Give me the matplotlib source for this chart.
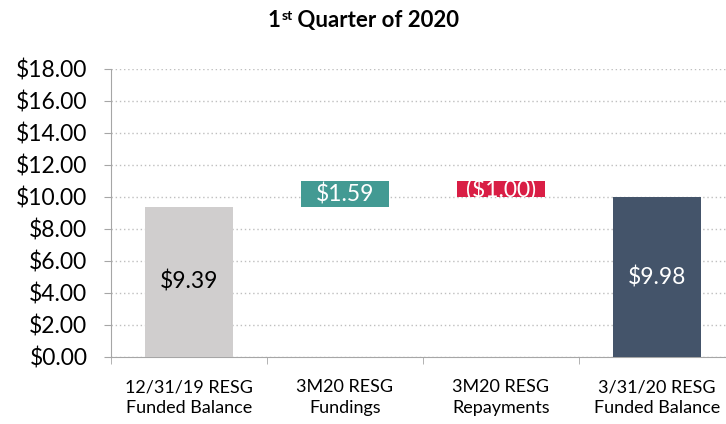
import matplotlib
matplotlib.use("Agg")
import matplotlib.pyplot as plt
import numpy as np

plt.rcParams['font.family'] = ['Lato', 'DejaVu Sans']

# data
categories = ["12/31/19 RESG\nFunded Balance", "3M20 RESG\nFundings",
              "3M20 RESG\nRepayments", "3/31/20 RESG\nFunded Balance"]
start_balance = 9.39
fundings = 1.59
repayments = -1.00
end_balance = 9.98
labels = ["$9.39", "$1.59", "($1.00)", "$9.98"]

bottoms = [0, start_balance, start_balance + fundings + repayments, 0]
heights = [start_balance, fundings, -repayments, end_balance]
colors = ['#D0CECE', '#439A93', '#D91E45', '#44546A']
text_colors = ['black', 'white', 'white', 'white']

fig = plt.figure(figsize=(7.26, 4.24), dpi=100)
ax = fig.add_axes([111/726, 67/424, 624/726, 288/424])

x = np.arange(len(categories))
bars = ax.bar(x, heights, bottom=bottoms, width=0.57, color=colors, zorder=3)

# value labels, clipped to their bar like the original
for b, lab, tc in zip(bars, labels, text_colors):
    cx = b.get_x() + b.get_width()/2
    cy = b.get_y() + b.get_height()/2
    t = ax.text(cx, cy, lab, ha='center', va='center', color=tc, fontsize=16.5, zorder=4)
    t.set_clip_path(b)

ax.set_xlim(-0.5, 3.5)
ax.set_ylim(0, 18)
ax.set_yticks(np.arange(0, 19, 2))
ax.set_yticklabels(['${:.2f}'.format(v) for v in np.arange(0, 19, 2)], fontsize=16.5)
ax.yaxis.grid(True, linestyle=(0, (1, 2)), color='#BFBFBF', linewidth=1, zorder=0)
ax.set_xticks(x)
ax.set_xticklabels(categories, fontsize=13, linespacing=1.4)
ax.set_xticks(np.arange(-0.5, 3.6, 1), minor=True)
ax.tick_params(axis='x', which='major', length=0, pad=16)
ax.tick_params(axis='x', which='minor', length=5, color='#A6A6A6')
ax.tick_params(axis='y', length=5, color='#A6A6A6', pad=12)

for s in ['top', 'right']:
    ax.spines[s].set_visible(False)
for s in ['left', 'bottom']:
    ax.spines[s].set_color('#A6A6A6')

# title with superscript
fig.canvas.draw()
r = fig.canvas.get_renderer()
ty = 1 - 27/424
t1 = fig.text(0, ty, "1", fontsize=16, fontweight='bold', va='baseline')
t2 = fig.text(0, ty, "st", fontsize=10, fontweight='bold', va='baseline')
t3 = fig.text(0, ty, " Quarter of 2020", fontsize=16, fontweight='bold', va='baseline')
w = [t.get_window_extent(r).width for t in (t1, t2, t3)]
start = (726 - sum(w)) / 2
t1.set_x(start / 726)
t2.set_x((start + w[0] + 1) / 726)
t2.set_y(ty + 7/424)
t3.set_x((start + w[0] + w[1]) / 726)

fig.savefig("out.png", dpi=100)
